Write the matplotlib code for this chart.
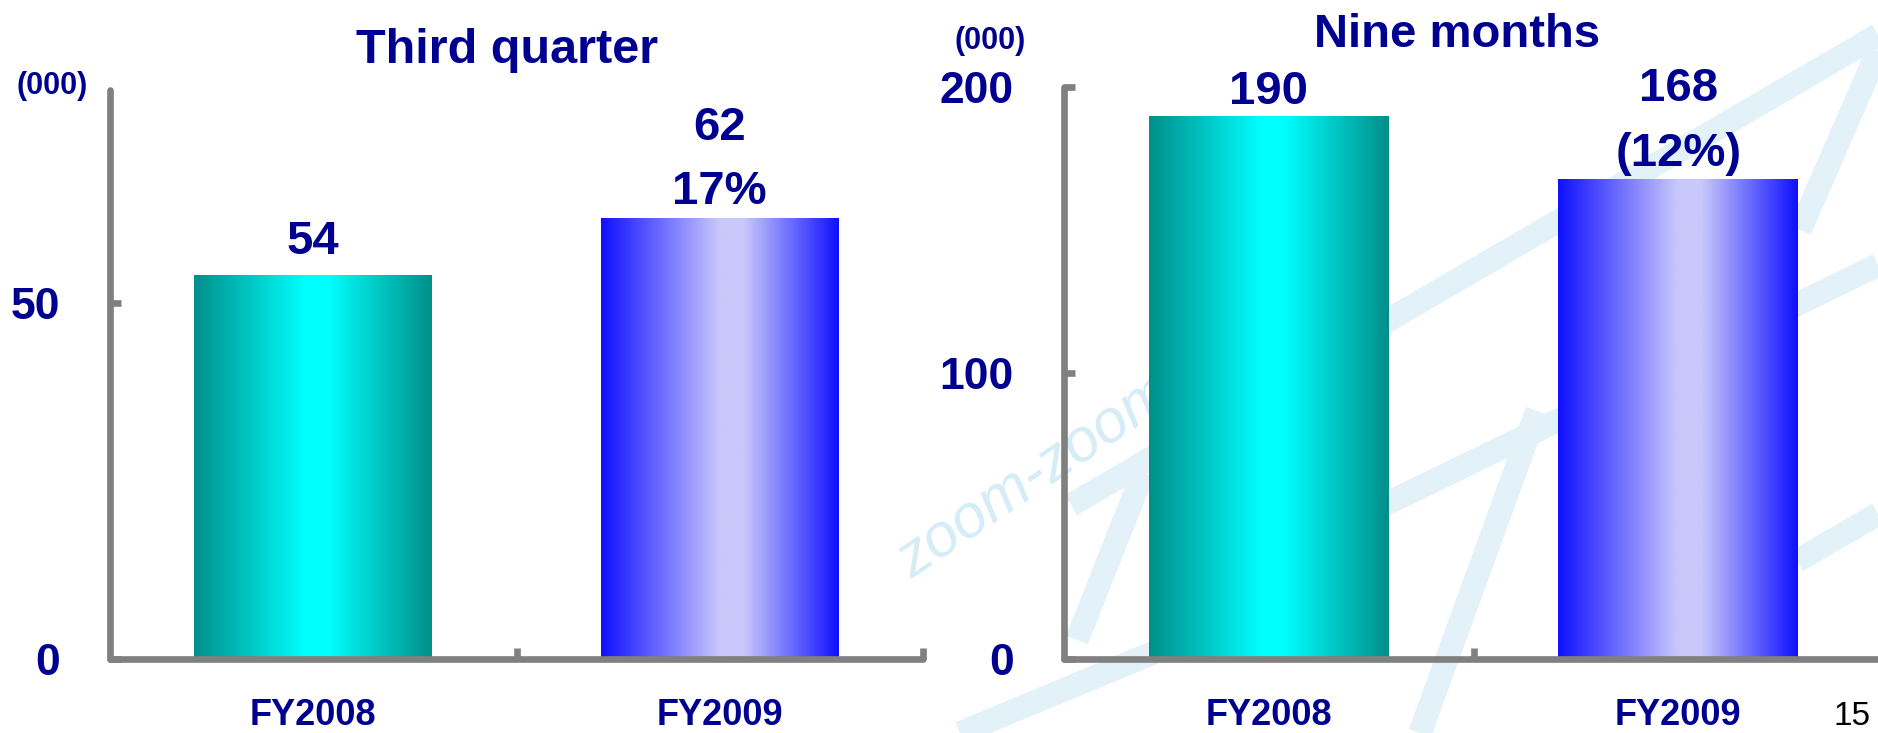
import numpy as np
import matplotlib
matplotlib.use('Agg')
import matplotlib.pyplot as plt
from matplotlib.colors import LinearSegmentedColormap

# ---------------- data ----------------
categories = ['FY2008', 'FY2009']
quarter_values = [54, 62]
quarter_labels = ['54', '62']
quarter_changes = ['', '17%']
quarter_yticks = [0, 50]
quarter_ymax = 80

nine_month_values = [190, 168]
nine_month_labels = ['190', '168']
nine_month_changes = ['', '(12%)']
nine_month_yticks = [0, 100, 200]
nine_month_ymax = 200

titles = ['Third quarter', 'Nine months']
unit_label = '(000)'
page_number = '15'

# ---------------- style ----------------
NAVY = '#000090'
GRAY = '#808080'
WM = '#e3f2f9'
plt.rcParams['font.family'] = ['Liberation Sans', 'DejaVu Sans']

W, H = 1878, 733
fig = plt.figure(figsize=(W / 100, H / 100), dpi=100)
fig.patch.set_facecolor('white')

# decorative background watermark (light blue strokes + text)
bg = fig.add_axes([0, 0, 1, 1], zorder=-5)
bg.set_xlim(0, W)
bg.set_ylim(H, 0)
bg.axis('off')
strokes = [((1071, 505), (1878, 35)), ((1250, 570), (1878, 265)),
           ((1537, 411), (1420, 733)), ((1878, 51), (1800, 230)),
           ((1143, 473), (1077, 640)), ((960, 733), (1160, 650)),
           ((1797, 561), (1878, 514))]
for (x0, y0), (x1, y1) in strokes:
    bg.plot([x0, x1], [y0, y1], color=WM, lw=17, solid_capstyle='butt')
bg.text(912, 580, 'zoom-zoom', rotation=34, rotation_mode='anchor',
        fontsize=44, style='italic', color='#d6ecf6', ha='left', va='baseline')

teal = LinearSegmentedColormap.from_list(
    'teal', [(0, '#008f8a'), (0.47, '#00ffff'), (0.56, '#00ffff'), (1, '#008f8a')])
blue = LinearSegmentedColormap.from_list(
    'blue', [(0, '#1010ff'), (0.5, '#c8c8fc'), (0.6, '#c8c8fc'), (1, '#1010ff')])
grad = np.linspace(0, 1, 256).reshape(1, -1)


def panel(rect, values, labels, changes, yticks, ymax, label_offsets, change_offsets):
    ax = fig.add_axes(rect)
    ax.patch.set_alpha(0)
    x = np.arange(len(values))
    bars = ax.bar(x, values, width=0.585, facecolor='none', edgecolor='none', zorder=2)
    for bar, cmap in zip(bars, [teal, blue]):
        im = ax.imshow(grad, cmap=cmap, aspect='auto', interpolation='bilinear',
                       extent=(bar.get_x(), bar.get_x() + bar.get_width(), 0, bar.get_height()),
                       zorder=2)
        im.set_clip_path(bar)
    ax.set_xlim(-0.5, len(values) - 0.5)
    ax.set_ylim(0, ymax)

    for side in ['top', 'right']:
        ax.spines[side].set_visible(False)
    for side in ['left', 'bottom']:
        ax.spines[side].set_color(GRAY)
        ax.spines[side].set_linewidth(4.8)
        ax.spines[side].set_capstyle('round')
        ax.spines[side].set_zorder(3)

    ax.yaxis.set_ticks_position('left')
    ax.xaxis.set_ticks_position('bottom')
    ax.set_yticks(yticks, labels=[str(v) for v in yticks], fontweight='bold',
                  fontsize=32, color=NAVY)
    ax.tick_params(axis='y', direction='in', length=8, width=4.8, color=GRAY, pad=36)
    ax.set_xticks(x, labels=categories, fontweight='bold', fontsize=26, color=NAVY)
    ax.set_xticks(x + 0.5, minor=True)
    ax.tick_params(axis='x', which='major', length=0, pad=28)
    ax.tick_params(axis='x', which='minor', direction='in', length=8, width=4.8, color=GRAY)

    for bar, lab, chg, lo, co in zip(bars, labels, changes, label_offsets, change_offsets):
        cx = bar.get_x() + bar.get_width() / 2
        ax.annotate(lab, xy=(cx, bar.get_height()), xytext=(0, lo), textcoords='offset points',
                    ha='center', va='baseline', fontsize=34, fontweight='bold', color=NAVY,
                    annotation_clip=False)
        if chg:
            ax.annotate(chg, xy=(cx, bar.get_height()), xytext=(0, co), textcoords='offset points',
                        ha='center', va='baseline', fontsize=34, fontweight='bold', color=NAVY,
                        annotation_clip=False)
    return ax


ax1 = panel([110 / W, 1 - 659 / H, 813 / W, 569 / H], quarter_values, quarter_labels,
            quarter_changes, quarter_yticks, quarter_ymax, [15, 56], [0, 10])
ax2 = panel([1064 / W, 1 - 659 / H, 819 / W, 572 / H], nine_month_values, nine_month_labels,
            nine_month_changes, nine_month_yticks, nine_month_ymax, [8.4, 56], [0, 9])

fig.text(507 / W, 1 - 63 / H, titles[0], ha='center', va='baseline', fontsize=35,
         fontweight='bold', color=NAVY)
fig.text(1457 / W, 1 - 47 / H, titles[1], ha='center', va='baseline', fontsize=34,
         fontweight='bold', color=NAVY)
fig.text(52 / W, 1 - 86 / H, unit_label, ha='center', va='center', fontsize=22,
         fontweight='bold', color=NAVY)
fig.text(990 / W, 1 - 41 / H, unit_label, ha='center', va='center', fontsize=22,
         fontweight='bold', color=NAVY)
fig.text(1852 / W, 1 - 725 / H, page_number, ha='center', va='baseline', fontsize=24,
         color='black')

fig.savefig('out.png', dpi=100)
